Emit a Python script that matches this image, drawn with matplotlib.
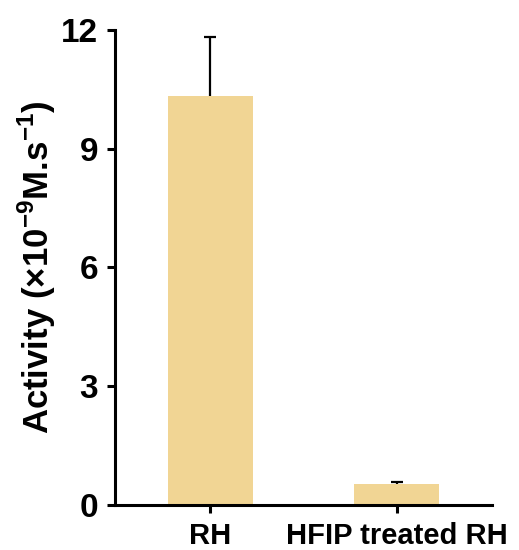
import numpy as np
import matplotlib.pyplot as plt

plt.rcParams['font.family'] = ['Liberation Sans', 'DejaVu Sans']
plt.rcParams['font.weight'] = 'bold'
plt.rcParams['mathtext.fontset'] = 'custom'
plt.rcParams['mathtext.rm'] = 'Liberation Sans:bold'
plt.rcParams['mathtext.bf'] = 'Liberation Sans:bold'

# ---Activity per sample (mean and upper SD)
samples = ['RH', 'HFIP treated RH']
activity = np.array([10.33, 0.53])
activity_sd = np.array([1.49, 0.05])
y_ticks = [0, 3, 6, 9, 12]

bar_color = '#F1D594'

fig = plt.figure(figsize=(5.19, 5.5), dpi=100)
ax = fig.add_axes([0.2216, 0.0818, 0.7264, 0.8637])

x = np.arange(len(samples))
ax.bar(x, activity, width=0.455, color=bar_color, zorder=2)

# ---Upper error bars only (stem + top cap)
err_top = activity + activity_sd
ax.vlines(x, activity, err_top, color='black', linewidth=1.6, zorder=3)
ax.hlines(err_top, x - 0.033, x + 0.033, color='black', linewidth=1.6, zorder=3)

ax.set_xlim(-0.51, 1.51)
ax.set_ylim(0, 12)
ax.set_yticks(y_ticks)
ax.set_xticks(x)
ax.set_xticklabels(samples, fontsize=21, fontweight='bold')
ax.set_yticklabels([str(t) for t in y_ticks], fontsize=24, fontweight='bold')

for side in ['top', 'right']:
    ax.spines[side].set_visible(False)
for side in ['left', 'bottom']:
    ax.spines[side].set_linewidth(2.2)
ax.tick_params(axis='both', width=2.2, length=6, direction='out')
ax.tick_params(axis='x', pad=6)
ax.tick_params(axis='y', pad=6)

ax.set_ylabel(r'Activity (×10$^{\mathbf{-9}}$M.s$^{\mathbf{-1}}$)',
              fontsize=25, fontweight='bold', labelpad=2)

fig.savefig('out.png', dpi=100)
